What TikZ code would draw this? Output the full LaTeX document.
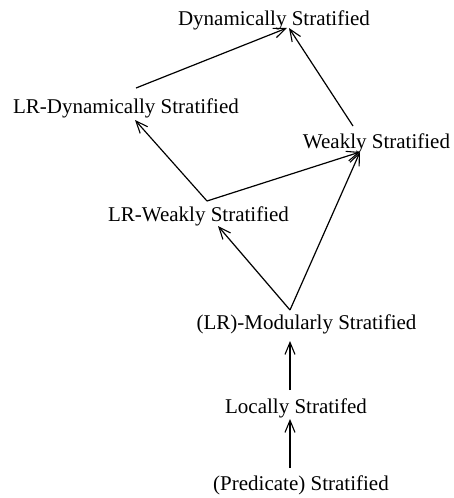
\documentclass[tikz,border=0pt]{standalone}
\usepackage{fontspec}
\setmainfont{Liberation Serif}
\usetikzlibrary{arrows.meta}
\begin{document}
\begin{tikzpicture}[x=1pt,y=-1pt,
  lbl/.style={inner sep=0pt,anchor=base,font=\fontsize{21}{25}\selectfont},
  edge/.style={line width=1.2pt,-{Straight Barb[length=12pt,width=10pt,line width=1.1pt]}}]
\useasboundingbox (0,0) rectangle (453,498);
\node[lbl] (dyn) at (274,25) {Dynamically Stratified};
\node[lbl] (lrdyn) at (126,113) {LR-Dynamically Stratified};
\node[lbl] (weak) at (376.5,148) {Weakly Stratified};
\node[lbl] (lrweak) at (198.5,221) {LR-Weakly Stratified};
\node[lbl] (mod) at (306.5,329) {(LR)-Modularly Stratified};
\node[lbl] (loc) at (296,413) {Locally Stratifed};
\node[lbl] (pred) at (301,490) {(Predicate) Stratified};
% connector end points
\coordinate (dynA) at (287,28);
\coordinate (dynB) at (289,28);
\coordinate (lrdynTop) at (136,88);
\coordinate (lrdynIn) at (135,120);
\coordinate (weakTop) at (353,126);
\coordinate (weakIn) at (360,152);
\coordinate (lrweakTop) at (207,201);
\coordinate (lrweakIn) at (218,226);
\coordinate (modTop) at (290,310);
\coordinate (modIn) at (290,341);
\coordinate (locTop) at (290,390);
\coordinate (locIn) at (290,419);
\coordinate (predTop) at (290,468);
\draw[edge] (lrdynTop) -- (dynA);
\draw[edge] (weakTop) -- (dynB);
\draw[edge] (lrweakTop) -- (lrdynIn);
\draw[edge] (lrweakTop) -- (weakIn);
\draw[edge] (modTop) -- (lrweakIn);
\draw[edge] (modTop) -- (weakIn);
\draw[edge] (locTop) -- (modIn);
\draw[edge] (predTop) -- (locIn);
\end{tikzpicture}
\end{document}
